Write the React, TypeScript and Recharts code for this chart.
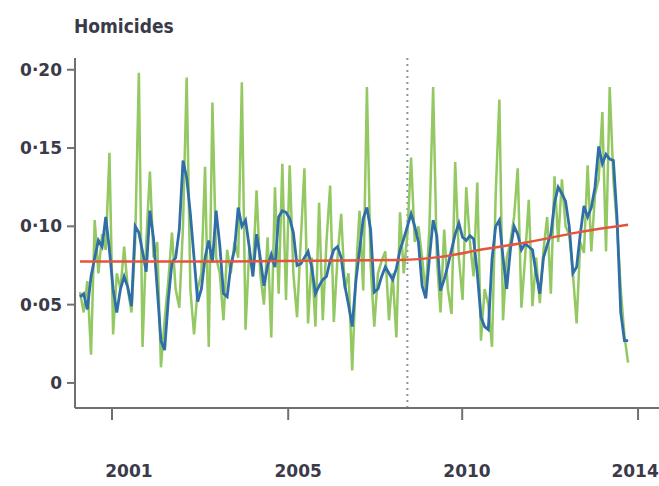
import { LineChart, Line, XAxis, YAxis, ReferenceLine } from 'recharts';

// monthly homicide rate, raw series
const rawRate = [
  0.058, 0.045, 0.065, 0.018, 0.104, 0.07, 0.095, 0.085, 0.147, 0.031,
  0.07, 0.06, 0.087, 0.06, 0.045, 0.09, 0.198, 0.023, 0.09, 0.135,
  0.08, 0.09, 0.01, 0.04, 0.065, 0.096, 0.06, 0.048, 0.1, 0.195,
  0.06, 0.031, 0.06, 0.07, 0.138, 0.023, 0.179, 0.08, 0.07, 0.04,
  0.085, 0.07, 0.09, 0.08, 0.192, 0.034, 0.085, 0.07, 0.123, 0.07,
  0.05, 0.093, 0.029, 0.125, 0.057, 0.14, 0.053, 0.139, 0.07, 0.042,
  0.09, 0.137, 0.038, 0.08, 0.036, 0.115, 0.04, 0.09, 0.126, 0.039,
  0.08, 0.108, 0.06, 0.07, 0.008, 0.07, 0.11, 0.059, 0.189, 0.075,
  0.036, 0.07, 0.078, 0.084, 0.04, 0.07, 0.029, 0.109, 0.07, 0.095,
  0.144, 0.09, 0.1, 0.08, 0.057, 0.1, 0.189, 0.08, 0.045, 0.098,
  0.06, 0.044, 0.141, 0.08, 0.053, 0.125, 0.09, 0.068, 0.128, 0.027,
  0.06, 0.05, 0.023, 0.12, 0.181, 0.04, 0.08, 0.09, 0.106, 0.137,
  0.048, 0.08, 0.117, 0.049, 0.08, 0.051, 0.085, 0.106, 0.057, 0.132,
  0.09, 0.13, 0.1, 0.095, 0.07, 0.038, 0.09, 0.083, 0.139, 0.084,
  0.12, 0.13, 0.173, 0.084, 0.189, 0.13, 0.1, 0.06, 0.03, 0.013,
];

// smoothed series
const smoothRate = [
  0.055, 0.057, 0.047, 0.068, 0.08, 0.091, 0.087, 0.106, 0.085, 0.06,
  0.045, 0.06, 0.068, 0.061, 0.049, 0.1, 0.096, 0.084, 0.071, 0.11,
  0.092, 0.06, 0.027, 0.021, 0.053, 0.077, 0.08, 0.098, 0.142, 0.131,
  0.108, 0.08, 0.052, 0.06, 0.08, 0.091, 0.077, 0.11, 0.088, 0.057,
  0.055, 0.075, 0.085, 0.112, 0.1, 0.104, 0.087, 0.068, 0.095, 0.08,
  0.062, 0.075, 0.082, 0.074, 0.106, 0.11, 0.109, 0.105, 0.096, 0.075,
  0.076, 0.08, 0.084, 0.074, 0.057, 0.062, 0.066, 0.068, 0.078, 0.085,
  0.087, 0.08, 0.062, 0.05, 0.036, 0.065, 0.085, 0.105, 0.112, 0.098,
  0.058, 0.06, 0.068, 0.074, 0.07, 0.066, 0.073, 0.085, 0.092, 0.1,
  0.108, 0.1, 0.09, 0.062, 0.054, 0.08, 0.104, 0.094, 0.059, 0.066,
  0.075, 0.085, 0.095, 0.102, 0.093, 0.091, 0.094, 0.092, 0.07, 0.042,
  0.036, 0.034, 0.079, 0.1, 0.104, 0.08, 0.06, 0.085, 0.1, 0.095,
  0.085, 0.089, 0.087, 0.085, 0.07, 0.057, 0.08, 0.088, 0.095, 0.115,
  0.125, 0.121, 0.116, 0.1, 0.07, 0.074, 0.095, 0.113, 0.106, 0.112,
  0.125, 0.151, 0.14, 0.146, 0.143, 0.142, 0.105, 0.045, 0.027, 0.027,
];

// fitted trend
const trendMonth = [0, 40, 87, 98, 110, 122, 135, 149];
const trendRate = [0.0775, 0.0776, 0.0785, 0.0805, 0.0855, 0.09, 0.096, 0.101];

const breakMonth = 89;

const yTicks = [0, 0.05, 0.1, 0.15, 0.2];
const yearTickMonths = [8.7, 56.6, 103.9, 151.7];
const yearLabelMonths = [13.3, 59.3, 105.2, 150.9];
const yearLabels = ['2001', '2005', '2010', '2014'];

const rows = rawRate.map((raw, i) => ({ month: i, raw, smooth: smoothRate[i] }));
const trendRows = trendMonth.map((month, i) => ({ month, trend: trendRate[i] }));

const xDomain = [-1.36, 157.4];
const axisColor = '#707070';
const textColor = '#3a3a4a';
const tickFont = { fontFamily: 'DejaVu Sans', fontWeight: 700, fontSize: 17, fill: textColor };

const formatRate = (v: number) => (v === 0 ? '0' : v.toFixed(2).replace('.', '·'));

export default function App() {
  return (
    <div style={{ position: 'absolute', left: 0, top: 0, width: 659, height: 486, background: '#fff' }}>
      <div
        style={{
          position: 'absolute',
          left: 74,
          top: 14,
          fontFamily: '"DejaVu Sans Condensed", "Liberation Sans Narrow", "DejaVu Sans"',
          fontWeight: 700,
          fontSize: 19,
          lineHeight: '24px',
          color: textColor,
        }}
      >
        Homicides
      </div>
      <LineChart width={659} height={486} data={rows} margin={{ top: 58, right: 0, bottom: 0, left: 0 }}>
        {/* axis line and tick marks sit against the plot, year labels below them */}
        <XAxis
          xAxisId="axis"
          dataKey="month"
          type="number"
          domain={xDomain}
          allowDataOverflow
          ticks={yearTickMonths}
          tick={() => <g />}
          tickSize={12}
          height={51}
          axisLine={{ stroke: axisColor, strokeWidth: 2 }}
          tickLine={{ stroke: axisColor, strokeWidth: 2 }}
        />
        <XAxis
          xAxisId="years"
          dataKey="month"
          type="number"
          domain={xDomain}
          allowDataOverflow
          ticks={yearLabelMonths}
          tickFormatter={(v: number) => yearLabels[yearLabelMonths.indexOf(v)] ?? ''}
          tick={tickFont}
          tickMargin={0}
          height={27}
          axisLine={false}
          tickLine={false}
        />
        <YAxis
          type="number"
          domain={[-0.016, 0.2075]}
          allowDataOverflow
          ticks={yTicks}
          tickFormatter={formatRate}
          tick={tickFont}
          tickSize={8}
          tickMargin={5}
          width={75}
          axisLine={{ stroke: axisColor, strokeWidth: 2 }}
          tickLine={{ stroke: axisColor, strokeWidth: 2 }}
        />
        <ReferenceLine
          xAxisId="axis"
          x={breakMonth}
          stroke="#8a93a6"
          strokeWidth={2}
          strokeDasharray="2 4"
        />
        <Line
          xAxisId="axis"
          dataKey="raw"
          type="linear"
          stroke="#93c862"
          strokeWidth={2.5}
          dot={false}
          isAnimationActive={false}
        />
        <Line
          xAxisId="axis"
          dataKey="smooth"
          type="linear"
          stroke="#2f6ea8"
          strokeWidth={2.8}
          dot={false}
          isAnimationActive={false}
        />
        <Line
          xAxisId="axis"
          data={trendRows}
          dataKey="trend"
          type="monotone"
          stroke="#e4553f"
          strokeWidth={2.5}
          dot={false}
          isAnimationActive={false}
        />
      </LineChart>
    </div>
  );
}
